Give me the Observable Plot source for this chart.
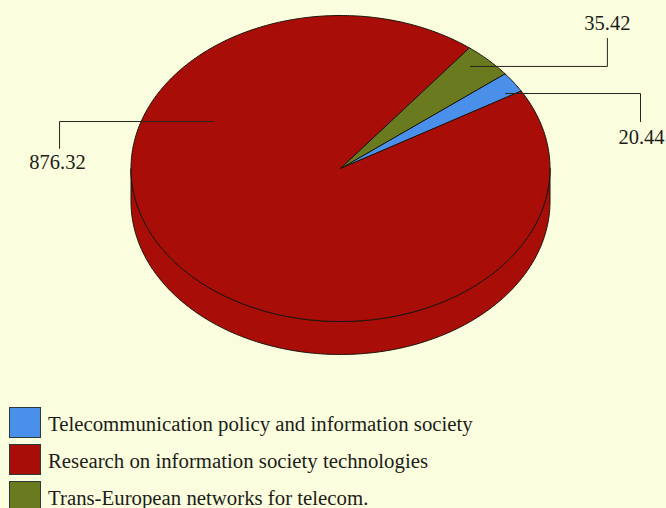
<!DOCTYPE html>
<html>
<head>
<meta charset="utf-8">
<script src="https://cdn.jsdelivr.net/npm/d3@7"></script>
<script src="https://cdn.jsdelivr.net/npm/@observablehq/plot@0.6"></script>
<style>
  html, body { margin: 0; height: 508px; overflow: hidden; background: #fbfede; }
  #legend { margin: 7px 0 0 9px; font: 20.8px "Liberation Serif", serif; color: #1c1c18; }
  .row { display: flex; align-items: center; height: 31px; margin-bottom: 6px; }
  .swatch { box-sizing: border-box; width: 32px; height: 31px; border: 1.5px solid #2c3a3a; margin-right: 7px; }
  .row span { position: relative; top: 1px; white-space: nowrap; }
</style>
</head>
<body>
<div id="chart"></div>
<div id="legend"></div>
<script>
// Budget lines, in legend order
const names = [
  "Telecommunication policy and information society",
  "Research on information society technologies",
  "Trans-European networks for telecom."
];
const values = [20.44, 876.32, 35.42];
const colors = ["#4a90ea", "#a80d08", "#6a7a1e"];

// Value callouts: an elbow line from the slice out to the label
const calloutLabels = ["20.44", "876.32", "35.42"];
const calloutAnchorX = [0.788, -0.606, 0.62];
const calloutAnchorY = [0.49, 0.307, 0.667];
const calloutElbowX = [1.432, -1.341, 1.274];
const calloutEndY = [0.307, 0.131, 0.85];
const calloutTextX = [1.437, -1.351, 1.274];
const calloutTextY = [0.203, 0.039, 0.948];

// Pie layout: clockwise from the upper right, on a unit circle
const startAngle = 51.65 * Math.PI / 180;
const rimDepth = 0.2157;
const arcs = d3.pie().sort(null)
  .startAngle(startAngle)
  .endAngle(startAngle + 2 * Math.PI)(values);

const rim = (a) => ({x: Math.sin(a), y: Math.cos(a)});
const arcPoints = (a0, a1) => {
  const n = Math.max(2, Math.ceil((a1 - a0) / 0.01));
  return d3.range(n + 1).map((i) => rim(a0 + (a1 - a0) * i / n));
};

// Top face: one closed outline per slice
const slices = arcs.flatMap((arc, i) => [
  {name: names[i], x: 0, y: 0},
  ...arcPoints(arc.startAngle, arc.endAngle).map((p) => ({name: names[i], ...p}))
]);

// Side wall: the front half of the disc, dropped by the rim depth
const frontHalf = arcPoints(Math.PI / 2, 3 * Math.PI / 2);
const wall = [
  ...frontHalf.map((p) => ({name: names[1], ...p})),
  ...frontHalf.slice().reverse().map((p) => ({name: names[1], x: p.x, y: p.y - rimDepth}))
];

const callouts = calloutLabels.flatMap((label, i) => [
  {label, x: calloutAnchorX[i], y: calloutAnchorY[i]},
  {label, x: calloutElbowX[i], y: calloutAnchorY[i]},
  {label, x: calloutElbowX[i], y: calloutEndY[i]}
]);
const labels = calloutLabels.map((label, i) => ({label, x: calloutTextX[i], y: calloutTextY[i]}));

const color = {domain: names, range: colors};
const outline = {stroke: "#1a1408", strokeWidth: 1, curve: "linear-closed"};

const chart = Plot.plot({
  width: 666,
  height: 400,
  margin: 0,
  style: {background: "transparent"},
  x: {domain: [-1, 1], range: [130.5, 549.5], axis: null},
  y: {domain: [-1, 1], range: [321, 15], axis: null},
  color,
  marks: [
    Plot.line(wall, {x: "x", y: "y", z: "name", fill: "name", ...outline}),
    Plot.line(slices, {x: "x", y: "y", z: "name", fill: "name", ...outline}),
    Plot.line(callouts, {x: "x", y: "y", z: "label", stroke: "#26261c", strokeWidth: 1}),
    Plot.text(labels, {
      x: "x", y: "y", text: "label",
      fontFamily: "Liberation Serif", fontSize: 20.5, fill: "#1c1c18"
    })
  ]
});
document.getElementById("chart").append(chart);
chart.style.display = "block";

// Swatch legend under the plot
const legend = document.getElementById("legend");
names.forEach((name, i) => {
  const row = document.createElement("div");
  row.className = "row";
  const swatch = document.createElement("div");
  swatch.className = "swatch";
  swatch.style.background = colors[i];
  const text = document.createElement("span");
  text.textContent = name;
  row.append(swatch, text);
  legend.append(row);
});
</script>
</body>
</html>
